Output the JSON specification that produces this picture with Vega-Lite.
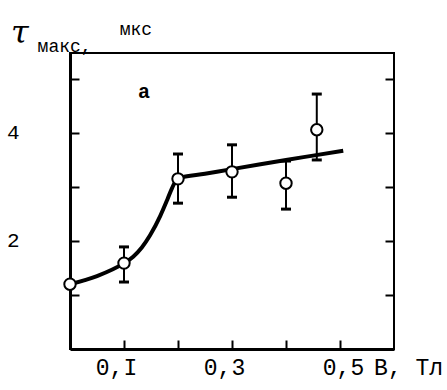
{
  "$schema": "https://vega.github.io/schema/vega-lite/v6.json",
  "width": 324,
  "height": 296,
  "autosize": {"type": "none"},
  "padding": {"left": 70, "top": 53, "right": 53, "bottom": 41},
  "background": "white",
  "config": {"view": {"stroke": "black", "strokeWidth": 2}, "font": "Liberation Mono"},
  "datasets": {
    "curve": [
      {"B": 0, "tau": 1.2}, {"B": 0.05, "tau": 1.35}, {"B": 0.1, "tau": 1.59},
      {"B": 0.117, "tau": 1.71}, {"B": 0.133, "tau": 1.88}, {"B": 0.148, "tau": 2.1},
      {"B": 0.167, "tau": 2.46}, {"B": 0.18, "tau": 2.76}, {"B": 0.189, "tau": 2.98},
      {"B": 0.2, "tau": 3.16}, {"B": 0.25, "tau": 3.245}, {"B": 0.3, "tau": 3.33},
      {"B": 0.35, "tau": 3.415}, {"B": 0.4, "tau": 3.5}, {"B": 0.45, "tau": 3.58}, {"B": 0.506, "tau": 3.67}
    ],
    "points": [
      {"B": 0, "tau": 1.2, "lo": null, "hi": null},
      {"B": 0.1, "tau": 1.59, "lo": 1.24, "hi": 1.89},
      {"B": 0.2, "tau": 3.15, "lo": 2.7, "hi": 3.61},
      {"B": 0.3, "tau": 3.28, "lo": 2.81, "hi": 3.78},
      {"B": 0.4, "tau": 3.07, "lo": 2.59, "hi": 3.48},
      {"B": 0.457, "tau": 4.06, "lo": 3.5, "hi": 4.72}
    ]
  },
  "resolve": {"axis": {"y": "independent"}},
  "layer": [
    {
      "data": {"name": "curve"},
      "mark": {"type": "line", "interpolate": "monotone", "stroke": "black", "strokeWidth": 4},
      "encoding": {
        "x": {"field": "B", "type": "quantitative", "scale": {"domain": [0, 0.6]},
          "axis": {"values": [0.1, 0.2, 0.3, 0.4, 0.5], "title": null, "grid": false,
            "labelExpr": "datum.value == 0.1 ? '0,I' : datum.value == 0.3 ? '0,3' : datum.value == 0.5 ? '0,5' : ''",
            "labelOffset": {"condition": {"test": "datum.value == 0.5", "value": 3}, "value": -8},
            "domainColor": "black", "domainWidth": 3, "tickColor": "black", "tickWidth": 2, "tickSize": -9,
            "labelFont": "Liberation Mono", "labelFontSize": 23, "labelColor": "black", "labelPadding": 16}},
        "y": {"field": "tau", "type": "quantitative", "scale": {"domain": [0, 5.48], "nice": false},
          "axis": {"values": [1, 2, 3, 4, 5], "title": null, "grid": false,
            "labelExpr": "datum.value == 2 || datum.value == 4 ? datum.value : ''",
            "domainColor": "black", "domainWidth": 3, "tickColor": "black", "tickWidth": 2, "tickSize": -9,
            "labelFont": "Liberation Mono", "labelFontSize": 21, "labelColor": "black", "labelPadding": 60}}
      }
    },
    {
      "data": {"name": "points"},
      "transform": [{"filter": "isValid(datum.lo)"}],
      "mark": {"type": "rule", "stroke": "black", "strokeWidth": 2},
      "encoding": {
        "x": {"field": "B", "type": "quantitative"},
        "y": {"field": "lo", "type": "quantitative",
          "axis": {"orient": "right", "values": [1, 2, 3, 4, 5], "title": null, "grid": false, "labels": false,
            "domain": false, "tickColor": "black", "tickWidth": 2, "tickSize": -9}},
        "y2": {"field": "hi"}
      }
    },
    {
      "data": {"name": "points"},
      "transform": [{"filter": "isValid(datum.lo)"}],
      "mark": {"type": "tick", "orient": "horizontal", "color": "black", "thickness": 3, "size": 10, "opacity": 1},
      "encoding": {
        "x": {"field": "B", "type": "quantitative"},
        "y": {"field": "lo", "type": "quantitative", "axis": null}
      }
    },
    {
      "data": {"name": "points"},
      "transform": [{"filter": "isValid(datum.hi)"}],
      "mark": {"type": "tick", "orient": "horizontal", "color": "black", "thickness": 3, "size": 10, "opacity": 1},
      "encoding": {
        "x": {"field": "B", "type": "quantitative"},
        "y": {"field": "hi", "type": "quantitative", "axis": null}
      }
    },
    {
      "data": {"name": "points"},
      "mark": {"type": "point", "shape": "circle", "fill": "white", "stroke": "black", "strokeWidth": 2, "size": 130, "opacity": 1, "fillOpacity": 1},
      "encoding": {
        "x": {"field": "B", "type": "quantitative"},
        "y": {"field": "tau", "type": "quantitative", "axis": null}
      }
    },
    {
      "data": {"values": [{"t": "τ", "B": -0.093, "tau": 5.85}]},
      "mark": {"type": "text", "font": "DejaVu Serif", "fontStyle": "italic", "fontSize": 32, "color": "black", "align": "center", "baseline": "middle"},
      "encoding": {
        "x": {"field": "B", "type": "quantitative"},
        "y": {"field": "tau", "type": "quantitative", "axis": null},
        "text": {"field": "t"}
      }
    },
    {
      "data": {"values": [{"t": "макс,", "B": -0.01, "tau": 5.6}]},
      "mark": {"type": "text", "font": "Liberation Mono", "fontSize": 18, "color": "black", "align": "center", "baseline": "middle"},
      "encoding": {
        "x": {"field": "B", "type": "quantitative"},
        "y": {"field": "tau", "type": "quantitative", "axis": null},
        "text": {"field": "t"}
      }
    },
    {
      "data": {"values": [{"t": "мкс", "B": 0.122, "tau": 5.9}]},
      "mark": {"type": "text", "font": "Liberation Mono", "fontSize": 18, "color": "black", "align": "center", "baseline": "middle"},
      "encoding": {
        "x": {"field": "B", "type": "quantitative"},
        "y": {"field": "tau", "type": "quantitative", "axis": null},
        "text": {"field": "t"}
      }
    },
    {
      "data": {"values": [{"t": "а", "B": 0.137, "tau": 4.76}]},
      "mark": {"type": "text", "font": "Liberation Mono", "fontWeight": "bold", "fontSize": 20, "color": "black", "align": "center", "baseline": "middle"},
      "encoding": {
        "x": {"field": "B", "type": "quantitative"},
        "y": {"field": "tau", "type": "quantitative", "axis": null},
        "text": {"field": "t"}
      }
    },
    {
      "data": {"values": [{"t": "В, Тл", "B": 0.627, "tau": -0.35}]},
      "mark": {"type": "text", "font": "Liberation Mono", "fontSize": 23, "color": "black", "align": "center", "baseline": "middle"},
      "encoding": {
        "x": {"field": "B", "type": "quantitative"},
        "y": {"field": "tau", "type": "quantitative", "axis": null},
        "text": {"field": "t"}
      }
    }
  ]
}
